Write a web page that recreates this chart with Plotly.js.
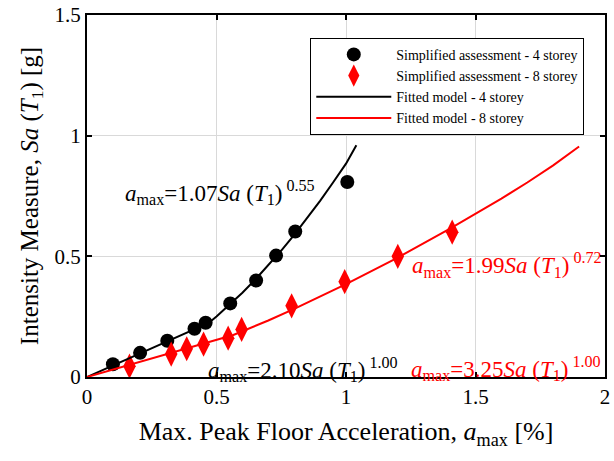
<!DOCTYPE html>
<html><head><meta charset="utf-8">
<script src="https://cdn.plot.ly/plotly-3.0.1.min.js"></script>
<style>html,body{margin:0;padding:0;background:#fff}#chart{width:614px;height:461px}</style>
</head><body><div id="chart"></div>
<script>
// Simplified assessment - 4 storey
const x4 = [0.10, 0.205, 0.31, 0.415, 0.458, 0.553, 0.653, 0.73, 0.804, 1.005];
const y4 = [0.053, 0.10, 0.15, 0.20, 0.225, 0.305, 0.40, 0.503, 0.603, 0.808];
// Simplified assessment - 8 storey
const x8 = [0.164, 0.325, 0.385, 0.45, 0.545, 0.597, 0.79, 0.995, 1.20, 1.41];
const y8 = [0.045, 0.095, 0.117, 0.136, 0.161, 0.197, 0.295, 0.395, 0.50, 0.60];
// Fitted model - 4 storey
const fx4 = [0, 0.47, 0.50, 0.55, 0.60, 0.65, 0.70, 0.75, 0.80, 0.85, 0.90, 0.95, 1.00, 1.04];
const fy4 = [0, 0.224, 0.251, 0.298, 0.349, 0.404, 0.462, 0.524, 0.589, 0.658, 0.730, 0.806, 0.884, 0.96];
// Fitted model - 8 storey
const fx8 = [0, 0.565, 0.70, 0.80, 1.00, 1.20, 1.40, 1.50, 1.60, 1.70, 1.80, 1.90];
const fy8 = [0, 0.174, 0.234, 0.282, 0.385, 0.495, 0.614, 0.675, 0.739, 0.806, 0.877, 0.955];
const xTicks = [0, 0.5, 1, 1.5, 2];
const xTickText = ['0', '0.5', '1', '1.5', '2'];
const yTicks = [0, 0.5, 1, 1.5];
const yTickText = ['0', '0.5', '1', '1.5'];

const FONT = 'Liberation Serif, Times New Roman, serif';
const eq = (c, p) => '<i>a</i><sub>max</sub>=' + c + '<i>Sa</i> (<i>T</i><sub>1</sub>)<sup> ' + p + '</sup>';
const traces = [
  {x: x4, y: y4, mode: 'markers', name: 'Simplified assessment - 4 storey',
   marker: {symbol: 'circle', size: 14, color: '#000'}},
  {x: x8, y: y8, mode: 'markers', name: 'Simplified assessment - 8 storey',
   marker: {symbol: 'diamond-tall', size: 18, color: '#ff0000'}},
  {x: fx4, y: fy4, mode: 'lines', name: 'Fitted model - 4 storey',
   line: {color: '#000', width: 2}},
  {x: fx8, y: fy8, mode: 'lines', name: 'Fitted model - 8 storey',
   line: {color: '#ff0000', width: 2}},
  {x: [1.255], y: [0.455], mode: 'text', text: [eq('1.99', '0.72')], textposition: 'middle right',
   cliponaxis: true, showlegend: false, hoverinfo: 'skip',
   textfont: {family: FONT, size: 23, color: '#ff0000'}}
];
const layout = {
  width: 614, height: 461,
  margin: {l: 87, r: 9, t: 15, b: 84},
  paper_bgcolor: '#fff', plot_bgcolor: '#fff',
  font: {family: FONT, color: '#000', size: 21},
  showlegend: true,
  legend: {x: 0.96, y: 0.937, xanchor: 'right', yanchor: 'top',
    bordercolor: '#000', borderwidth: 1, bgcolor: '#fff',
    font: {family: FONT, size: 14}, tracegroupgap: 0, itemwidth: 75},
  xaxis: {range: [0, 2], tickvals: xTicks, ticktext: xTickText,
    showgrid: true, gridcolor: '#d9d9d9', gridwidth: 1, zeroline: false,
    showline: true, linecolor: '#000', linewidth: 2, mirror: 'ticks',
    ticks: 'inside', ticklen: 5, tickwidth: 2, tickcolor: '#000',
    tickfont: {family: FONT, size: 21},
    title: {text: 'Max. Peak Floor Acceleration, <i>a</i><sub>max</sub> [%]', font: {family: FONT, size: 26}, standoff: 14}},
  yaxis: {range: [0, 1.5], tickvals: yTicks, ticktext: yTickText,
    showgrid: true, gridcolor: '#d9d9d9', gridwidth: 1, zeroline: false,
    showline: true, linecolor: '#000', linewidth: 2, mirror: 'ticks',
    ticks: 'inside', ticklen: 5, tickwidth: 2, tickcolor: '#000',
    tickfont: {family: FONT, size: 21},
    title: {text: 'Intensity Measure, <i>Sa</i> (<i>T</i><sub>1</sub>) [g]', font: {family: FONT, size: 25}, standoff: 9}},
  annotations: [
    {x: 0.14, y: 0.765, xanchor: 'left', yanchor: 'middle', showarrow: false, text: eq('1.07', '0.55'), font: {family: FONT, size: 23, color: '#000'}},
    {x: 0.46, y: 0.03, xanchor: 'left', yanchor: 'middle', showarrow: false, text: eq('2.10', '1.00'), font: {family: FONT, size: 23, color: '#000'}},
    {x: 1.245, y: 0.035, xanchor: 'left', yanchor: 'middle', showarrow: false, text: eq('3.25', '1.00'), font: {family: FONT, size: 23, color: '#ff0000'}}
  ]
};
Plotly.newPlot('chart', traces, layout, {displayModeBar: false, staticPlot: true});
</script></body></html>
